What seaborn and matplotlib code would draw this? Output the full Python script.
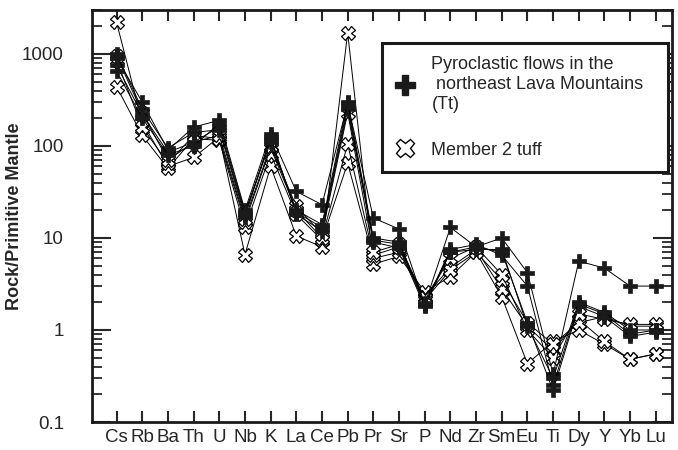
import matplotlib
matplotlib.use('Agg')
import matplotlib.pyplot as plt
from matplotlib.lines import Line2D
from matplotlib.ticker import FixedLocator, FuncFormatter, LogLocator, NullFormatter
import numpy as np
import pandas as pd
import seaborn as sns

# spider diagram, normalised to primitive mantle
elements = ['Cs', 'Rb', 'Ba', 'Th', 'U', 'Nb', 'K', 'La', 'Ce', 'Pb', 'Pr',
            'Sr', 'P', 'Nd', 'Zr', 'Sm', 'Eu', 'Ti', 'Dy', 'Y', 'Yb', 'Lu']

# Pyroclastic flows in the northeast Lava Mountains (Tt)
tt_1 = [900, 300, 90, 160, 190, 20, 135, 32, 23, 290, 16.5, 12.5, 1.9, 13, 8, 10, 4.2, 0.33, 5.6, 4.7, 3.0, 3.0]
tt_2 = [750, 220, 85, 110, 160, 18, 120, 19, 13, 270, 9.5, 8.5, 1.85, 7.5, 8.5, 6.5, 3.0, 0.25, 1.9, 1.5, 0.9, 1.0]
tt_3 = [1000, 250, 95, 140, 150, 17, 125, 18, 12, 250, 9, 7.8, 1.8, 7, 8, 7, 1.2, 0.22, 1.8, 1.4, 0.85, 0.95]
tt_4 = [650, 200, 80, 100, 175, 19, 110, 20, 14, 300, 10, 9, 1.95, 7, 7.5, 7.5, 1.1, 0.3, 2.0, 1.55, 1.0, 1.0]

# Member 2 tuff
m2_1 = [2200, 180, 60, 75, 125, 6.6, 60, 10.5, 8, 1700, 5.2, 6.3, 2.6, 3.8, 7, 2.3, 0.43, 0.75, 1.0, 0.7, 0.48, 0.55]
m2_2 = [440, 130, 57, 120, 115, 13, 82, 18, 9.5, 65, 6, 7, 2.3, 4.8, 7.5, 2.8, 1.1, 0.6, 1.3, 0.75, 0.48, 0.55]
m2_3 = [850, 160, 65, 130, 120, 15, 95, 20, 10, 105, 6.5, 8, 2.1, 4.5, 7, 3.5, 1.2, 0.7, 1.2, 1.4, 1.1, 1.1]
m2_4 = [950, 230, 70, 110, 130, 16, 100, 22, 11, 230, 7, 8.5, 2.2, 6, 8, 4, 1.0, 0.5, 1.5, 1.3, 1.15, 1.15]

tt_label = 'Pyroclastic flows in the\n northeast Lava Mountains\n(Tt)'
m2_label = 'Member 2 tuff'


def to_long(samples, group):
    rows = []
    for name, vals in samples.items():
        for i, (el, v) in enumerate(zip(elements, vals)):
            rows.append({'sample': name, 'pos': i, 'element': el, 'value': v, 'group': group})
    return pd.DataFrame(rows)


df_tt = to_long({'tt_1': tt_1, 'tt_2': tt_2, 'tt_3': tt_3, 'tt_4': tt_4}, 'Tt')
df_m2 = to_long({'m2_1': m2_1, 'm2_2': m2_2, 'm2_3': m2_3, 'm2_4': m2_4}, 'M2')

sns.set_style('ticks')
plt.rcParams['font.family'] = ['Liberation Sans', 'DejaVu Sans']

fig = plt.figure(figsize=(6.78, 4.5), dpi=100)
ax = fig.add_axes([0.1352, 0.0622, 0.8559, 0.9156])

sns.lineplot(data=df_m2, x='pos', y='value', units='sample', estimator=None,
             color='black', lw=0.7, marker='X', markersize=9.5,
             markerfacecolor='white', markeredgecolor='black', markeredgewidth=0.9,
             ax=ax, legend=False)
sns.lineplot(data=df_tt, x='pos', y='value', units='sample', estimator=None,
             color='black', lw=0.7, marker='P', markersize=10.5,
             markerfacecolor='#1a1a1a', markeredgecolor='#1a1a1a', markeredgewidth=0.5,
             ax=ax, legend=False)

ax.set_yscale('log')
ax.set_ylim(0.1, 3000)
ax.set_xlim(-0.97, 21.63)

ax.yaxis.set_major_locator(FixedLocator([0.1, 1, 10, 100, 1000]))
ax.yaxis.set_major_formatter(FuncFormatter(lambda v, p: ('%g' % v)))
ax.yaxis.set_minor_locator(LogLocator(base=10, subs=np.arange(2, 10)))
ax.yaxis.set_minor_formatter(NullFormatter())

ax.set_xticks(range(len(elements)))
ax.set_xticklabels(elements)

for lab in ax.get_xticklabels() + ax.get_yticklabels():
    lab.set_fontsize(13.5)

ax.tick_params(axis='y', which='major', direction='in', length=14, width=1.5,
               left=True, right=True, pad=20)
ax.tick_params(axis='y', which='minor', direction='in', length=7, width=1.3,
               left=True, right=True)
ax.tick_params(axis='x', which='major', direction='in', length=8, width=1.5,
               bottom=True, top=True, pad=5)

for s in ax.spines.values():
    s.set_linewidth(2)
    s.set_color('#1a1a1a')

ax.set_xlabel('')
ax.set_ylabel('Rock/Primitive Mantle', fontsize=13, fontweight='bold')
ax.yaxis.set_label_coords(-0.118, 0.5)

handles = [
    Line2D([], [], ls='none', marker='P', markersize=15, color='#1a1a1a'),
    Line2D([], [], ls='none', marker='X', markersize=13, markerfacecolor='white',
           markeredgecolor='black', markeredgewidth=1.0),
]
leg = ax.legend(handles, [tt_label, m2_label], loc='upper left',
                bbox_to_anchor=(0.5, 0.92, 0.493, 0.0), mode='expand',
                fontsize=13, frameon=True, fancybox=False, framealpha=1,
                edgecolor='#1a1a1a', borderpad=0.75, labelspacing=1.6,
                handlelength=1.1, handletextpad=0.9, borderaxespad=0)
leg.get_frame().set_linewidth(2.2)

fig.savefig('out.png', dpi=100)
